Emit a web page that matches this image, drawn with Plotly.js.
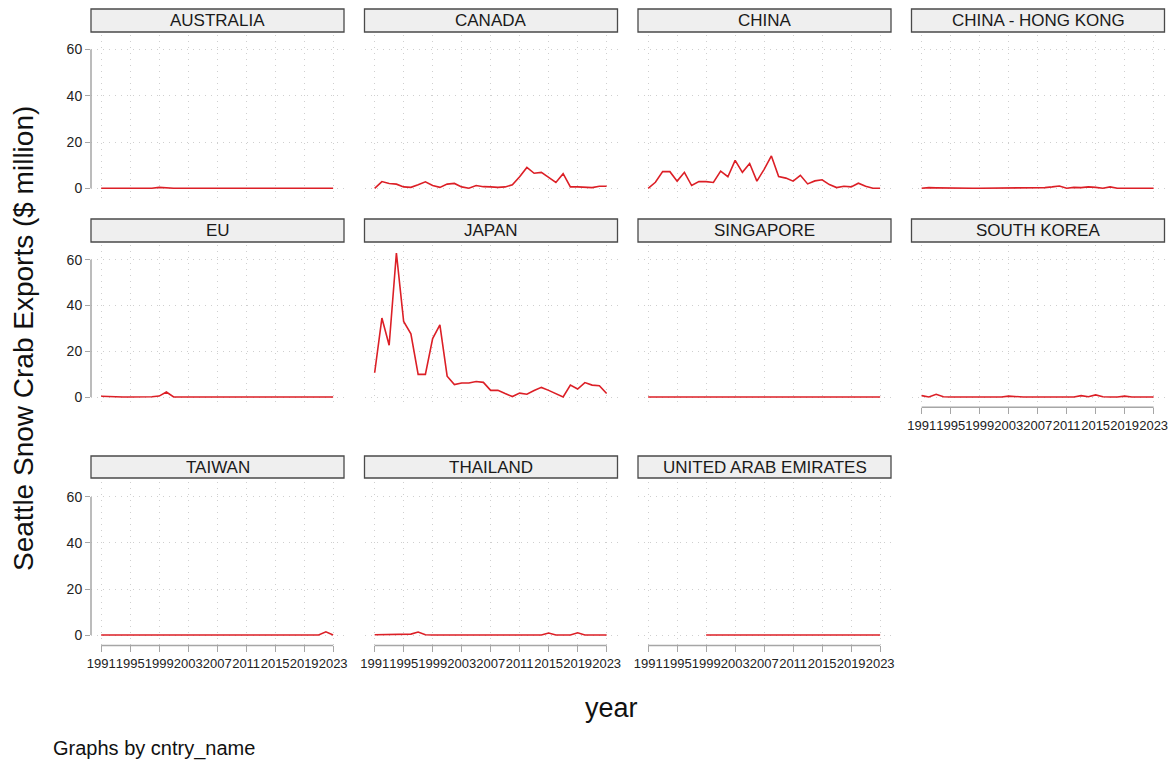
<!DOCTYPE html>
<html>
<head>
<meta charset="utf-8">
<script src="https://cdn.plot.ly/plotly-3.0.1.min.js"></script>
<style>html,body{margin:0;padding:0;background:#fff;}#chart{width:1173px;height:761px;}</style>
</head>
<body>
<div id="chart"></div>
<script>
// ---------- data ----------
const years = [1991,1992,1993,1994,1995,1996,1997,1998,1999,2000,2001,2002,2003,2004,2005,2006,2007,2008,2009,2010,2011,2012,2013,2014,2015,2016,2017,2018,2019,2020,2021,2022,2023];
const countries = ["AUSTRALIA","CANADA","CHINA","CHINA - HONG KONG","EU","JAPAN","SINGAPORE","SOUTH KOREA","TAIWAN","THAILAND","UNITED ARAB EMIRATES"];
const xTickVals = [1991,1995,1999,2003,2007,2011,2015,2019,2023];
const yTickVals = [0,20,40,60];

const australia = [0,0,0,0,0,0,0,0,0.4,0.1,0,0,0,0,0,0,0.1,0,0.1,0,0,0,0,0,0.1,0,0,0,0,0,0,0,0];
const canada    = [0,2.9,2.1,1.8,0.6,0.4,1.5,2.8,1.2,0.4,1.8,2.1,0.6,0,1.2,0.7,0.6,0.4,0.6,1.5,5.0,9.0,6.5,6.9,4.7,2.5,6.3,0.6,0.6,0.3,0.3,0.9,0.9];
const china     = [0,2.6,7.2,7.2,3.1,6.9,1.2,2.9,2.9,2.5,7.4,5.0,12.1,6.9,10.7,3.1,8.2,14.0,5.1,4.4,3.1,5.6,1.9,3.2,3.7,1.6,0.3,0.9,0.6,2.2,0.9,0,0];
const hongKong  = [0,0.3,0.2,0.1,0,0,0,0,0,0,0,0,0,0,0,0,0.1,0.3,0.6,1.0,0,0.4,0.3,0.6,0.4,0.05,0.6,0,0,0,0,0,0];
const eu        = [0.3,0.1,0,0,0,0,0,0.1,0.4,2.2,0,0,0.1,0,0,0,0,0,0,0,0.1,0.2,0.1,0,0,0,0,0,0,0,0,0,0];
const japan     = [10.6,34.5,22.6,62.9,33.0,27.6,9.9,9.9,25.5,31.5,9.1,5.4,6.1,6.1,6.8,6.4,2.9,2.9,1.5,0.2,1.7,1.2,2.8,4.2,2.9,1.5,0.0,5.2,3.5,6.3,5.2,4.9,1.5];
const singapore = [0,0,0,0,0,0,0,0,0.1,0.2,0,0,0,0,0,0,0,0.3,0.2,0,0,0,0,0,0,0,0,0,0,0,0,0,0];
const southKorea= [0.6,0,1.2,0.1,0,0,0,0,0,0.1,0,0,0.4,0.1,0,0,0,0,0,0,0,0,0.6,0.1,0.9,0.1,0,0,0.4,0,0,0,0];
const taiwan    = [0,0,0.2,0,0,0,0,0,0.2,0.1,0,0,0,0,0,0,0,0,0,0,0,0,0,0,0,0,0,0,0,0,0,1.4,0];
const thailand  = [0.1,0.2,0.1,0.2,0.5,0.4,1.3,0.1,0,0,0,0,0,0,0,0,0,0,0,0,0,0,0,0,0.9,0,0,0,1.0,0,0,0,0];
const uae       = [null,null,null,null,null,null,null,null,0,0,0,0,0,0,0,0,0,0,0,0,0,0,0,0,0,0,0,0,0,0,0,0,0];
const seriesList = [australia,canada,china,hongKong,eu,japan,singapore,southKorea,taiwan,thailand,uae];

// ---------- layout geometry (pixels) ----------
const W = 1173, H = 761;
const colLeft = [91, 364.5, 638, 911.5], panelW = 253;
const rowPlot = [[34.5,198.7],[244.8,407.3],[482,645.4]];
const rowStrip = [[9,32],[219,242],[456,478]];
const px = v => v / W, py = v => 1 - v / H;
const FONT = "Liberation Sans, Arial, sans-serif";
const GRID = "#cfcfcf", AXIS = "#a6a6a6", TXT = "#222222";
const bottomPanels = [7,8,9,10];

const data = [], shapes = [], annotations = [];
const layout = {
  width: W, height: H, margin: {l:0,r:0,t:0,b:0},
  paper_bgcolor: "#fff", plot_bgcolor: "#fff", showlegend: false,
  font: {family: FONT, color: TXT}
};

countries.forEach((name, i) => {
  const r = Math.floor(i / 4), c = i % 4;
  const sfx = i === 0 ? "" : String(i + 1);
  const xa = "xaxis" + sfx, ya = "yaxis" + sfx;
  const xr = "x" + sfx, yr = "y" + sfx;
  const showX = bottomPanels.includes(i), showY = c === 0;
  data.push({
    type: "scatter", mode: "lines", x: years, y: seriesList[i],
    xaxis: xr, yaxis: yr, line: {color: "#dc1f26", width: 1.6},
    hoverinfo: "x+y", connectgaps: false
  });
  layout[xa] = {
    domain: [px(colLeft[c]), px(colLeft[c] + panelW)], anchor: yr,
    range: [1989.6, 2024.5], tickvals: xTickVals, ticktext: xTickVals.map(String),
    tickangle: 0, autotickangles: [0],
    showticklabels: showX, ticks: showX ? "outside" : "", ticklen: 6, tickwidth: 1, tickcolor: AXIS,
    tickfont: {size: 13, color: TXT, family: FONT},
    showgrid: true, gridcolor: GRID, griddash: "1px,5px", gridwidth: 1,
    zeroline: false, showline: false, fixedrange: true
  };
  layout[ya] = {
    domain: [py(rowPlot[r][1]), py(rowPlot[r][0])], anchor: xr,
    range: [-4.5, 66.5], tickvals: yTickVals, ticktext: yTickVals.map(String),
    showticklabels: showY, ticks: showY ? "outside" : "", ticklen: 5, tickwidth: 1, tickcolor: AXIS,
    tickfont: {size: 14, color: TXT, family: FONT},
    showgrid: true, gridcolor: GRID, griddash: "1px,5px", gridwidth: 1,
    zeroline: false, showline: false, fixedrange: true
  };
  // strip header
  shapes.push({
    type: "rect", xref: "paper", yref: "paper",
    x0: px(colLeft[c]), x1: px(colLeft[c] + panelW),
    y0: py(rowStrip[r][1]), y1: py(rowStrip[r][0]),
    fillcolor: "#efefef", line: {color: "#4a4a4a", width: 1.3}
  });
  annotations.push({
    xref: "paper", yref: "paper", x: px(colLeft[c] + panelW / 2), y: py((rowStrip[r][0] + rowStrip[r][1]) / 2),
    text: name, showarrow: false, xanchor: "center", yanchor: "middle",
    font: {size: 17, color: "#1a1a1a", family: FONT}
  });
  if (showY) {
    shapes.push({type: "line", xref: "paper", yref: yr, x0: px(colLeft[c]), x1: px(colLeft[c]),
      y0: yTickVals[0], y1: yTickVals[yTickVals.length - 1], line: {color: AXIS, width: 1.5}});
  }
  if (showX) {
    shapes.push({type: "line", xref: xr, yref: "paper", x0: xTickVals[0], x1: xTickVals[xTickVals.length - 1],
      y0: py(rowPlot[r][1]), y1: py(rowPlot[r][1]), line: {color: AXIS, width: 1.5}});
  }
});

annotations.push({
  xref: "paper", yref: "paper", x: px(23), y: py(339), textangle: -90,
  text: "Seattle Snow Crab Exports ($ million)", showarrow: false,
  xanchor: "center", yanchor: "middle", font: {size: 28, color: "#111", family: FONT}
});
annotations.push({
  xref: "paper", yref: "paper", x: px(611), y: py(708),
  text: "year", showarrow: false, xanchor: "center", yanchor: "middle",
  font: {size: 27, color: "#111", family: FONT}
});
annotations.push({
  xref: "paper", yref: "paper", x: px(51), y: py(748),
  text: "Graphs by cntry_name", showarrow: false, xanchor: "left", yanchor: "middle",
  font: {size: 20, color: "#111", family: FONT}
});

layout.shapes = shapes;
layout.annotations = annotations;

Plotly.newPlot("chart", data, layout, {displayModeBar: false, staticPlot: true});
</script>
</body>
</html>
